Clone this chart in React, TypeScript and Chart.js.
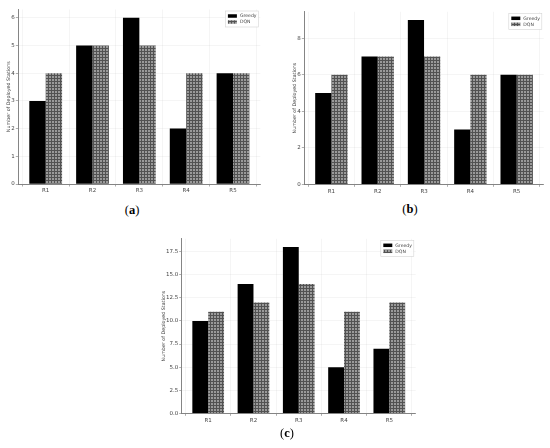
import React, { useEffect, useRef } from "react";
import { Chart, registerables } from "chart.js";

Chart.register(...registerables);

const categories = ["R1", "R2", "R3", "R4", "R5"];
const seriesNames = ["Greedy", "DQN"];
const greedyA = [3, 5, 6, 2, 4];
const dqnA = [4, 5, 5, 4, 4];
const greedyB = [5, 7, 9, 3, 6];
const dqnB = [6, 7, 7, 6, 6];
const greedyC = [10, 14, 18, 5, 7];
const dqnC = [11, 12, 14, 11, 12];
const ticksA = [0, 1, 2, 3, 4, 5, 6];
const ticksB = [0, 2, 4, 6, 8];
const ticksC = [0, 2.5, 5, 7.5, 10, 12.5, 15, 17.5];
const yTitle = "Number of Deployed Stations";

function makePattern(): CanvasPattern | string {
  const tile = document.createElement("canvas");
  tile.width = 3;
  tile.height = 3;
  const c = tile.getContext("2d");
  if (!c) return "#737373";
  c.fillStyle = "#525252";
  c.fillRect(0, 0, 3, 3);
  c.fillStyle = "#9a9a9a";
  c.fillRect(1, 1, 2, 2);
  const p = c.createPattern(tile, "repeat");
  return p || "#737373";
}

const boxLegend = {
  id: "boxLegend",
  afterDraw(chart: any, _args: any, opts: any) {
    const { ctx, chartArea } = chart;
    const w = opts.w;
    const h = opts.h;
    const x = chartArea.right - opts.right - w;
    const y = chartArea.top + opts.top;
    ctx.save();
    ctx.fillStyle = "rgba(255,255,255,0.85)";
    ctx.strokeStyle = "#d4d4d4";
    ctx.lineWidth = 0.6;
    ctx.fillRect(x, y, w, h);
    ctx.strokeRect(x, y, w, h);
    chart.data.datasets.forEach((ds: any, i: number) => {
      const cy = y + opts.rowTop + i * opts.rowGap;
      ctx.fillStyle = ds.backgroundColor;
      ctx.fillRect(x + opts.padX, cy - opts.sh / 2, opts.sw, opts.sh);
      ctx.fillStyle = "#444";
      ctx.font = `${opts.fontSize}px "DejaVu Sans"`;
      ctx.textBaseline = "middle";
      ctx.textAlign = "left";
      ctx.fillText(ds.label, x + opts.textX, cy);
    });
    ctx.restore();
  },
};

type PanelProps = {
  x0: number;
  y0: number;
  w: number;
  h: number;
  yAxisWidth: number;
  xAxisHeight: number;
  padTop: number;
  padRight: number;
  titlePad: number;
  greedy: number[];
  dqn: number[];
  yTicks: number[];
  yMax: number;
  decimals: number;
  tickFont: number;
  legend: any;
  caption: string;
  capX: number;
  capY: number;
};

function Panel(p: PanelProps) {
  const ref = useRef<HTMLCanvasElement | null>(null);
  useEffect(() => {
    if (!ref.current) return;
    const pattern = makePattern();
    const chart = new Chart(ref.current, {
      type: "bar",
      data: {
        datasets: [
          {
            label: seriesNames[0],
            data: categories.map((_, i) => ({ x: i, y: p.greedy[i] })),
            backgroundColor: "#000000",
            borderWidth: 0,
            categoryPercentage: 0.7,
            barPercentage: 1.0,
          },
          {
            label: seriesNames[1],
            data: categories.map((_, i) => ({ x: i, y: p.dqn[i] })),
            backgroundColor: pattern as any,
            borderWidth: 0,
            categoryPercentage: 0.7,
            barPercentage: 1.0,
          },
        ],
      },
      options: {
        responsive: false,
        animation: false,
        layout: { padding: { top: p.padTop, right: p.padRight, left: 0, bottom: 0 } },
        plugins: {
          legend: { display: false },
          tooltip: { enabled: false },
          boxLegend: p.legend,
        } as any,
        scales: {
          x: {
            type: "linear",
            min: -0.585,
            max: categories.length - 1 + 0.585,
            offset: false,
            afterBuildTicks: (s: any) => {
              s.ticks = categories.map((_, i) => ({ value: i }));
            },
            afterFit: (s: any) => {
              s.height = p.xAxisHeight;
            },
            ticks: {
              autoSkip: false,
              maxRotation: 0,
              padding: 1,
              color: "#444",
              font: { family: "DejaVu Sans", size: p.tickFont },
              callback: (v: any) => categories[v] ?? "",
            },
            grid: {
              color: "rgba(0,0,0,0.07)",
              lineWidth: 0.6,
              tickLength: 2.5,
              tickColor: "#777",
            },
            border: { color: "#777", width: 0.9 },
          },
          y: {
            type: "linear",
            min: 0,
            max: p.yMax,
            afterBuildTicks: (s: any) => {
              s.ticks = p.yTicks.map((v) => ({ value: v }));
            },
            afterFit: (s: any) => {
              s.width = p.yAxisWidth;
            },
            ticks: {
              padding: 1,
              color: "#444",
              font: { family: "DejaVu Sans", size: p.tickFont },
              callback: (v: any) => Number(v).toFixed(p.decimals),
            },
            grid: {
              color: "rgba(0,0,0,0.07)",
              lineWidth: 0.6,
              tickLength: 2.5,
              tickColor: "#777",
            },
            border: { color: "#777", width: 0.9 },
            title: {
              display: true,
              text: yTitle,
              color: "#444",
              font: { family: "DejaVu Sans", size: 4.8 },
              padding: { top: p.titlePad, bottom: 0 },
            },
          },
        },
      },
      plugins: [boxLegend],
    } as any);
    return () => chart.destroy();
  }, []);
  return (
    <>
      <canvas
        ref={ref}
        width={p.w}
        height={p.h}
        style={{ position: "absolute", left: p.x0, top: p.y0, width: p.w, height: p.h }}
      />
      <div
        style={{
          position: "absolute",
          left: p.capX,
          top: p.capY,
          transform: "translate(-50%, -50%)",
          fontFamily: '"Liberation Serif", "Times New Roman", serif',
          fontSize: 12.5,
          color: "#000",
          whiteSpace: "nowrap",
        }}
      >
        (<b>{p.caption}</b>)
      </div>
    </>
  );
}

const legendBase = {
  w: 33,
  h: 16,
  right: 2,
  top: 1.5,
  rowTop: 5,
  rowGap: 6,
  padX: 2.5,
  sw: 9,
  sh: 3.5,
  textX: 14.5,
  fontSize: 4.6,
};

export default function App() {
  return (
    <div style={{ position: "absolute", left: 0, top: 0, width: 550, height: 448, background: "#fff" }}>
      <Panel
        x0={0}
        y0={0}
        w={272}
        h={200}
        yAxisWidth={18.3}
        xAxisHeight={16}
        padTop={9.5}
        padRight={11.6}
        titlePad={5.4}
        greedy={greedyA}
        dqn={dqnA}
        yTicks={ticksA}
        yMax={6.3}
        decimals={0}
        tickFont={5.5}
        legend={legendBase}
        caption="a"
        capX={132}
        capY={210}
      />
      <Panel
        x0={280}
        y0={0}
        w={270}
        h={200}
        yAxisWidth={24.3}
        xAxisHeight={15.7}
        padTop={11.8}
        padRight={6.2}
        titlePad={12.1}
        greedy={greedyB}
        dqn={dqnB}
        yTicks={ticksB}
        yMax={9.45}
        decimals={0}
        tickFont={5.5}
        legend={legendBase}
        caption="b"
        capX={410}
        capY={209}
      />
      <Panel
        x0={150}
        y0={228}
        w={280}
        h={200}
        yAxisWidth={31.7}
        xAxisHeight={14.7}
        padTop={10.8}
        padRight={14.2}
        titlePad={10.4}
        greedy={greedyC}
        dqn={dqnC}
        yTicks={ticksC}
        yMax={18.9}
        decimals={1}
        tickFont={5.5}
        legend={legendBase}
        caption="c"
        capX={287}
        capY={433}
      />
    </div>
  );
}
